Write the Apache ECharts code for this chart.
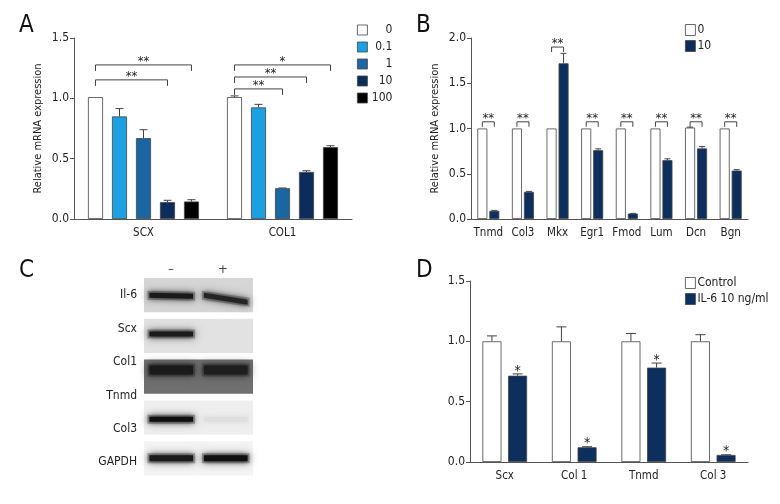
<!DOCTYPE html>
<html>
<head>
<meta charset="utf-8">
<script src="https://cdn.jsdelivr.net/npm/echarts@6/dist/echarts.min.js"></script>
<style>
  html, body { margin: 0; padding: 0; background: #fff; }
  #main { width: 780px; height: 504px; }
</style>
</head>
<body>
<div id="main"></div>
<script>
// ---- data ----
var catsA = ['SCX', 'COL1'];
var namesA = ['0', '0.1', '1', '10', '100'];
var valsA = [
  [1.01, 1.01],
  [0.85, 0.925],
  [0.67, 0.255],
  [0.14, 0.39],
  [0.145, 0.595]
];
var errA = [
  [1.01, 1.02],
  [0.915, 0.95],
  [0.74, 0.257],
  [0.155, 0.40],
  [0.16, 0.607]
];
// [category, fromBar, toBar, height]
var bracketsA = [[0, 0, 4, 1.277], [0, 0, 3, 1.153], [1, 0, 4, 1.277], [1, 0, 3, 1.177], [1, 0, 2, 1.078]];
var bracketTextA = ['**', '**', '*', '**', '**'];

var catsB = ['Tnmd', 'Col3', 'Mkx', 'Egr1', 'Fmod', 'Lum', 'Dcn', 'Bgn'];
var namesB = ['0', '10'];
var valsB = [
  [1, 1, 1, 1, 1, 1, 1.01, 1],
  [0.09, 0.30, 1.72, 0.76, 0.06, 0.65, 0.78, 0.535]
];
var errB = [
  [1, 1, 1, 1, 1, 1, 1.015, 1],
  [0.095, 0.305, 1.83, 0.775, 0.062, 0.665, 0.80, 0.545]
];
var bracketsB = [[0, 0, 1, 1.074], [1, 0, 1, 1.074], [2, 0, 1, 1.90], [3, 0, 1, 1.074],
  [4, 0, 1, 1.074], [5, 0, 1, 1.074], [6, 0, 1, 1.074], [7, 0, 1, 1.074]];
var bracketTextB = ['**', '**', '**', '**', '**', '**', '**', '**'];

var catsD = ['Scx', 'Col 1', 'Tnmd', 'Col 3'];
var namesD = ['Control', 'IL-6 10 ng/ml'];
var valsD = [
  [1, 1, 1, 1],
  [0.715, 0.122, 0.782, 0.058]
];
var errD = [
  [1.045, 1.12, 1.065, 1.055],
  [0.73, 0.127, 0.82, 0.06]
];
var starsD = ['*', '*', '*', '*'];

var blotRows = ['Il-6', 'Scx', 'Col1', 'Col3', 'GAPDH'];
var blotLanes = ['–', '+'];
var blotMinus = [0.95, 0.95, 0.9, 1.0, 0.95];
var blotPlus = [0.9, 0.0, 0.85, 0.07, 1.0];

// ---- styles ----
var FONT = '"DejaVu Sans Condensed", "Liberation Sans Narrow", sans-serif';
var colorsA = ['#ffffff', '#1ba1e2', '#1a66a3', '#0c2d5c', '#000000'];
var colorsB = ['#ffffff', '#0c2f5e'];
var AXIS = '#555';
var TXT = '#222';
var blotBg = [214, 226, 112, 239, 244];
var blotBandPos = [0.5, 0.44, 0.3, 0.55, 0.5];
var blotBandH = [5, 5, 9, 5, 6];
var blotSlant = [[1, 7], [0, 0], [0, 0], [0, 0], [0, 0]];

var chart = echarts.init(document.getElementById('main'));

function yAx(gi, max, name, gap) {
  return {
    gridIndex: gi, type: 'value', min: 0, max: max, interval: 0.5,
    name: name, nameLocation: 'middle', nameGap: gap,
    nameTextStyle: { fontFamily: FONT, fontSize: 11, color: TXT },
    axisLine: { show: true, lineStyle: { color: AXIS } },
    axisTick: { show: true, length: 4, lineStyle: { color: AXIS } },
    axisLabel: { fontFamily: FONT, fontSize: 12, color: TXT, margin: 5,
      formatter: function (v) { return v.toFixed(1); } },
    splitLine: { show: false }
  };
}
function xAx(gi, cats) {
  return {
    gridIndex: gi, type: 'category', data: cats,
    axisLine: { lineStyle: { color: AXIS } },
    axisTick: { alignWithLabel: true, length: 4, lineStyle: { color: AXIS } },
    axisLabel: { fontFamily: FONT, fontSize: 11.5, color: TXT, margin: 8, interval: 0 }
  };
}

function barsFor(gi, names, vals, colors, barW, gap) {
  return names.map(function (n, i) {
    return {
      name: n, type: 'bar', xAxisIndex: gi, yAxisIndex: gi,
      data: vals[i], barWidth: barW, barGap: gap,
      itemStyle: { color: colors[i], borderColor: '#444', borderWidth: 0.8 }
    };
  });
}

function errFor(gi, vals, errs, nBars, step, cap) {
  var d = [];
  vals.forEach(function (row, s) {
    row.forEach(function (v, c) {
      if (errs[s][c] > v) d.push([c, s, v, errs[s][c]]);
    });
  });
  return {
    type: 'custom', xAxisIndex: gi, yAxisIndex: gi, data: d, silent: true, z: 4,
    renderItem: function (params, api) {
      var p1 = api.coord([api.value(0), api.value(2)]);
      var p2 = api.coord([api.value(0), api.value(3)]);
      var x = p1[0] + (api.value(1) - (nBars - 1) / 2) * step;
      return {
        type: 'group', children: [
          { type: 'line', shape: { x1: x, y1: p1[1], x2: x, y2: p2[1] }, style: { stroke: '#444', lineWidth: 1 } },
          { type: 'line', shape: { x1: x - cap / 2, y1: p2[1], x2: x + cap / 2, y2: p2[1] }, style: { stroke: '#444', lineWidth: 1 } }
        ]
      };
    }
  };
}

function bracketFor(gi, data, texts, nBars, step, tick) {
  return {
    type: 'custom', xAxisIndex: gi, yAxisIndex: gi, data: data, silent: true, z: 5,
    renderItem: function (params, api) {
      var c = api.coord([api.value(0), api.value(3)]);
      var x1 = c[0] + (api.value(1) - (nBars - 1) / 2) * step;
      var x2 = c[0] + (api.value(2) - (nBars - 1) / 2) * step;
      var y = c[1];
      return {
        type: 'group', children: [
          { type: 'polyline', shape: { points: [[x1, y + tick], [x1, y], [x2, y], [x2, y + tick]] },
            style: { stroke: '#444', lineWidth: 1, fill: null } },
          { type: 'text', x: (x1 + x2) / 2, y: y + 3,
            style: { text: texts[params.dataIndex], align: 'center', verticalAlign: 'bottom',
              fontFamily: FONT, fontSize: 13, fill: TXT } }
        ]
      };
    }
  };
}

function starFor(gi, errs, texts, s, nBars, step) {
  var d = errs[s].map(function (v, c) { return [c, v]; });
  return {
    type: 'custom', xAxisIndex: gi, yAxisIndex: gi, data: d, silent: true, z: 5,
    renderItem: function (params, api) {
      var p = api.coord([api.value(0), api.value(1)]);
      var x = p[0] + (s - (nBars - 1) / 2) * step;
      return { type: 'text', x: x, y: p[1] + 4,
        style: { text: texts[params.dataIndex], align: 'center', verticalAlign: 'bottom',
          fontFamily: FONT, fontSize: 14, fill: TXT } };
    }
  };
}

function mixGray(bg, k) {
  var g = Math.round(bg + (16 - bg) * k);
  return 'rgb(' + g + ',' + g + ',' + g + ')';
}

var blotSeries = {
  type: 'custom', xAxisIndex: 3, yAxisIndex: 3, silent: true,
  data: blotRows.map(function (r, i) { return [i, blotMinus[i], blotPlus[i]]; }),
  renderItem: function (params, api) {
    var i = api.value(0);
    var tl = api.coord([0, i]);
    var br = api.coord([2, i + 0.84]);
    var h = br[1] - tl[1];
    var children = [{ type: 'rect', shape: { x: tl[0], y: tl[1], width: br[0] - tl[0], height: h },
      style: { fill: mixGray(blotBg[i], 0) } }];
    [api.value(1), api.value(2)].forEach(function (k, lane) {
      if (k <= 0) return;
      var l = api.coord([lane + 0.1, i])[0];
      var r = api.coord([lane + 0.9, i])[0];
      var yc = tl[1] + h * blotBandPos[i];
      var hh = blotBandH[i] / 2;
      var s = blotSlant[i][lane];
      var col = mixGray(blotBg[i], k);
      var halo = mixGray(blotBg[i], k * 0.45);
      children.push({
        type: 'polygon',
        shape: { points: [[l - 2, yc - hh - 2], [r + 2, yc - hh - 2 + s], [r + 2, yc + hh + 2 + s], [l - 2, yc + hh + 2]] },
        style: { fill: halo, shadowBlur: 8, shadowColor: halo, opacity: 0.8 }
      });
      children.push({
        type: 'polygon',
        shape: { points: [[l, yc - hh], [r, yc - hh + s], [r, yc + hh + s], [l, yc + hh]] },
        style: { fill: col, shadowBlur: 5, shadowColor: col }
      });
    });
    return { type: 'group', children: children };
  }
};

var blotLabelY = [295, 329, 362, 396, 429, 462];
var blotLabels = ['Il-6', 'Scx', 'Col1', 'Tnmd', 'Col3', 'GAPDH'];

var graphics = [
  { type: 'text', x: 19, y: 14, style: { text: 'A', fontFamily: FONT, fontSize: 24, fill: '#111' } },
  { type: 'text', x: 416, y: 14, style: { text: 'B', fontFamily: FONT, fontSize: 24, fill: '#111' } },
  { type: 'text', x: 19, y: 259, style: { text: 'C', fontFamily: FONT, fontSize: 24, fill: '#111' } },
  { type: 'text', x: 416, y: 259, style: { text: 'D', fontFamily: FONT, fontSize: 24, fill: '#111' } }
];
blotLabels.forEach(function (t, i) {
  graphics.push({ type: 'text', x: 137, y: blotLabelY[i],
    style: { text: t, align: 'right', verticalAlign: 'middle', fontFamily: FONT, fontSize: 12, fill: TXT } });
});
blotLanes.forEach(function (t, i) {
  graphics.push({ type: 'text', x: i === 0 ? 171 : 223, y: 270,
    style: { text: t, align: 'center', verticalAlign: 'middle', fontFamily: FONT, fontSize: 13, fill: '#444' } });
});

var series = []
  .concat(barsFor(0, namesA, valsA, colorsA, 15, '60%'))
  .concat([errFor(0, valsA, errA, 5, 24, 8), bracketFor(0, bracketsA, bracketTextA, 5, 24, 6)])
  .concat(barsFor(1, namesB, valsB, colorsB, 10, '20%'))
  .concat([errFor(1, valsB, errB, 2, 12, 6), bracketFor(1, bracketsB, bracketTextB, 2, 12, 5)])
  .concat([blotSeries])
  .concat(barsFor(2, namesD, valsD, colorsB, 19, '35%'))
  .concat([errFor(2, valsD, errD, 2, 25.65, 10), starFor(2, errD, starsD, 1, 2, 25.65)]);

var legendItem = { borderWidth: 0.8, borderColor: '#444' };

var option = {
  animation: false,
  backgroundColor: '#fff',
  textStyle: { fontFamily: FONT },
  grid: [
    { left: 74, top: 38, width: 278, height: 181 },
    { left: 471, top: 38, width: 277, height: 181 },
    { left: 470, top: 281, width: 278, height: 181 },
    { left: 144, top: 278, width: 109, height: 204 }
  ],
  xAxis: [xAx(0, catsA), xAx(1, catsB), xAx(2, catsD),
    { gridIndex: 3, type: 'value', min: 0, max: 2, show: false }],
  yAxis: [yAx(0, 1.5, 'Relative mRNA expression', 30), yAx(1, 2.0, 'Relative mRNA expression', 30),
    yAx(2, 1.5, '', 0),
    { gridIndex: 3, type: 'value', min: 0, max: 5, inverse: true, show: false }],
  legend: [
    { data: namesA, orient: 'vertical', left: 352, top: 19, itemWidth: 10, itemHeight: 10, itemGap: 5,
      selectedMode: false, icon: 'rect', itemStyle: legendItem,
      formatter: function (n) { return '{r|' + n + '}'; },
      textStyle: { fontFamily: FONT, fontSize: 12, color: TXT, rich: { r: { width: 20, align: 'right', fontFamily: FONT, fontSize: 12 } } } },
    { data: namesB, orient: 'vertical', left: 680, top: 19, itemWidth: 10, itemHeight: 11, itemGap: 4,
      selectedMode: false, icon: 'rect', itemStyle: legendItem,
      textStyle: { fontFamily: FONT, fontSize: 12, color: TXT, padding: [0, 0, 0, -3] } },
    { data: namesD, orient: 'vertical', left: 680, top: 272, itemWidth: 10, itemHeight: 11, itemGap: 4,
      selectedMode: false, icon: 'rect', itemStyle: legendItem,
      textStyle: { fontFamily: FONT, fontSize: 12, color: TXT, padding: [0, 0, 0, -3] } }
  ],
  graphic: graphics,
  series: series
};

chart.setOption(option);
</script>
</body>
</html>
